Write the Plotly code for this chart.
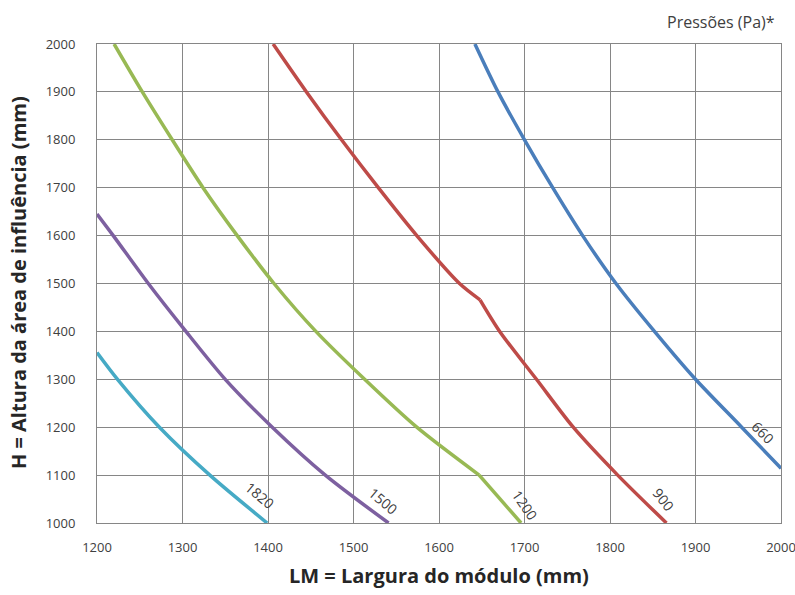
import plotly.graph_objects as go

# largura do módulo (mm) x altura da área de influência (mm), por pressão (Pa)
x_660 = [1642, 1669, 1700, 1733, 1768, 1807, 1852, 1900, 1954, 2000]
y_660 = [2000, 1900, 1800, 1700, 1600, 1500, 1400, 1300, 1200, 1114]

x_900 = [1406, 1445, 1486, 1529, 1574, 1624, 1648, 1671, 1714, 1757, 1809, 1866]
y_900 = [2000, 1900, 1800, 1700, 1600, 1500, 1466, 1400, 1300, 1200, 1100, 1000]

x_1200 = [1220, 1253, 1288, 1324, 1364, 1407, 1456, 1513, 1574, 1647, 1696]
y_1200 = [2000, 1900, 1800, 1700, 1600, 1500, 1400, 1300, 1200, 1100, 1000]

x_1500 = [1200, 1219, 1260, 1304, 1350, 1405, 1467, 1541]
y_1500 = [1645, 1600, 1500, 1400, 1300, 1200, 1100, 1000]

x_1820 = [1200, 1224, 1273, 1332, 1399]
y_1820 = [1356, 1300, 1200, 1100, 1000]

# (nome, x, y, cor, índice do ponto de quebra em LM ~1650)
series = [
    ("660", x_660, y_660, "#4A7EBB", None),
    ("900", x_900, y_900, "#BE4B48", 6),
    ("1200", x_1200, y_1200, "#98B954", 9),
    ("1500", x_1500, y_1500, "#7D60A0", None),
    ("1820", x_1820, y_1820, "#46AAC5", None),
]

# rótulos das curvas: (texto, x, y, ângulo)
labels = [
    ("660", 1979, 1189, 45),
    ("900", 1863, 1050, 52),
    ("1200", 1700, 1038, 55),
    ("1500", 1534, 1046, 40),
    ("1820", 1391, 1058, 40),
]

FONT = "Open Sans"
GRID = "#868686"

fig = go.Figure()
for name, xs, ys, color, kink in series:
    parts = [(xs, ys)] if kink is None else [(xs[:kink + 1], ys[:kink + 1]), (xs[kink:], ys[kink:])]
    for px, py in parts:
        fig.add_trace(go.Scatter(x=px, y=py, mode="lines", name=name,
                                 line=dict(color=color, width=3.5, shape="spline", smoothing=0.8)))

for text, lx, ly, ang in labels:
    fig.add_annotation(x=lx, y=ly, text=text, showarrow=False, textangle=ang,
                       font=dict(family=FONT, size=14, color="#404040"))

fig.add_annotation(xref="paper", yref="paper", x=0.994, y=1.046, xanchor="right", yanchor="middle",
                   text="Pressões (Pa)*", showarrow=False,
                   font=dict(family=FONT, size=16, color="#404040"))
fig.add_annotation(xref="paper", yref="paper", x=0.5, y=-0.1086, xanchor="center", yanchor="middle",
                   text="<b>LM = Largura do módulo (mm)</b>", showarrow=False,
                   font=dict(family=FONT, size=20, color="#262626"))
fig.add_annotation(xref="paper", yref="paper", x=-0.1155, y=0.503, xanchor="center", yanchor="middle",
                   text="<b>H = Altura da área de influência (mm)</b>", showarrow=False, textangle=-90,
                   font=dict(family=FONT, size=20, color="#262626"))

fig.update_xaxes(range=[1200, 2000], dtick=100, tick0=1200, showgrid=True, gridcolor=GRID, gridwidth=1,
                 showline=True, linecolor=GRID, linewidth=1, mirror=True, zeroline=False,
                 ticks="", ticklabelstandoff=12, automargin=False, ticklabeloverflow="allow",
                 tickfont=dict(family=FONT, size=13, color="#404040"))
fig.update_yaxes(range=[1000, 2000], dtick=100, tick0=1000, showgrid=True, gridcolor=GRID, gridwidth=1,
                 showline=True, linecolor=GRID, linewidth=1, mirror=True, zeroline=False,
                 ticks="", ticklabelstandoff=18, automargin=False, ticklabeloverflow="allow",
                 tickfont=dict(family=FONT, size=13, color="#404040"))

fig.update_layout(width=795, height=595, margin=dict(l=97, r=14, t=44, b=72),
                  plot_bgcolor="white", paper_bgcolor="white", showlegend=False)

fig.write_html("out.html", config={"displayModeBar": False},
               post_script="document.body.style.margin='0';")
